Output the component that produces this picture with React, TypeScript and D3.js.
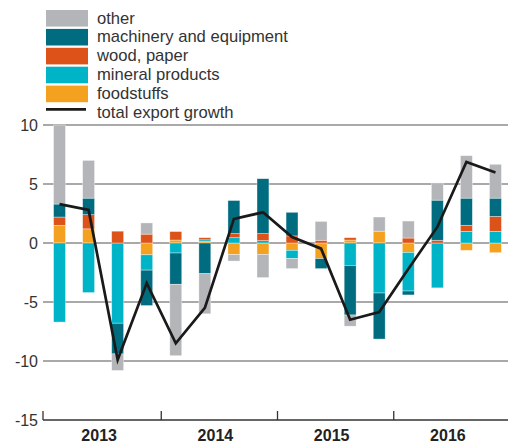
import { useEffect, useRef } from "react"
import * as d3 from "d3"

const quarters = ["13Q1", "13Q2", "13Q3", "13Q4", "14Q1", "14Q2", "14Q3", "14Q4", "15Q1", "15Q2", "15Q3", "15Q4", "16Q1", "16Q2", "16Q3", "16Q4"]
const years = ["2013", "2014", "2015", "2016"]

const foodstuffs = [1.5, 1.2, 0, -1.0, 0.25, 0.12, -0.98, -0.96, -0.62, -1.32, 0.25, 1.0, -0.8, 0, -0.62, -0.82]
const mineral = [-6.7, -4.2, -6.8, -1.3, -0.85, 0.15, 0.45, 0.2, -0.7, 0, -1.9, -4.24, -3.27, -3.8, 0.99, 0.99]
const wood = [0.7, 1.2, 1.0, 0.75, 0.72, 0.18, 0.35, 0.6, 0.6, 0.23, 0.2, 0, 0.42, 0.23, 0.51, 1.27]
const machinery = [1.1, 1.4, -2.6, -3.0, -2.65, -2.6, 2.8, 4.65, 2.0, -0.85, -4.2, -3.9, -0.33, 3.4, 2.3, 1.54]
const other = [6.7, 3.2, -1.4, 0.95, -6.05, -3.4, -0.55, -1.97, -0.85, 1.6, -0.95, 1.2, 1.44, 1.46, 3.6, 2.87]
const total = [3.3, 2.8, -9.9, -3.4, -8.5, -5.5, 2.05, 2.6, 0.5, -0.48, -6.5, -5.85, -2.2, 1.36, 6.86, 5.97]

const yTicks = [10, 5, 0, -5, -10, -15]

const keys = ["foodstuffs", "mineral", "wood", "machinery", "other"]
const colors = {
    foodstuffs: "#f4a11f",
    mineral: "#00b4c8",
    wood: "#dc5219",
    machinery: "#006c80",
    other: "#b4b5b8",
}
const legendItems = [
    { key: "other", label: "other" },
    { key: "machinery", label: "machinery and equipment" },
    { key: "wood", label: "wood, paper" },
    { key: "mineral", label: "mineral products" },
    { key: "foodstuffs", label: "foodstuffs" },
]

export default function App() {
    const chart = useRef<SVGSVGElement>(null)
    const width = 508
    const height = 444

    useEffect(() => {
        const svg = d3.select(chart.current)
        svg.selectAll("*").remove()
        const font = "'Liberation Sans', Arial, sans-serif"

        const rows = quarters.map((q, i) => ({
            q,
            foodstuffs: foodstuffs[i],
            mineral: mineral[i],
            wood: wood[i],
            machinery: machinery[i],
            other: other[i],
            total: total[i],
        }))

        const x = d3.scaleBand().domain(quarters).range([45, 510]).paddingInner(0.59).paddingOuter(0.295)
        const xYear = d3.scaleBand().domain(years).range([45, 510])
        const y = d3.scaleLinear().domain([-15, 10]).range([420, 125])

        // gridlines + y labels
        const grid = svg.append("g")
        grid.selectAll("line")
            .data(yTicks.filter(d => d > -15))
            .enter().append("line")
            .attr("x1", 43).attr("x2", 508)
            .attr("y1", d => y(d)).attr("y2", d => y(d))
            .attr("stroke", "#8c8c8c")
            .attr("stroke-width", 1.5)
        grid.selectAll("text")
            .data(yTicks)
            .enter().append("text")
            .attr("x", 38)
            .attr("y", d => y(d))
            .attr("dy", "0.36em")
            .attr("text-anchor", "end")
            .attr("font-family", font)
            .attr("font-size", 16)
            .attr("fill", "#333")
            .text(d => String(d))

        // stacked bars
        const series = d3.stack<any>().keys(keys).offset(d3.stackOffsetDiverging)(rows)
        svg.append("g")
            .selectAll("g")
            .data(series)
            .enter().append("g")
            .attr("fill", d => colors[d.key as keyof typeof colors])
            .selectAll("rect")
            .data(d => d)
            .enter().append("rect")
            .attr("x", d => x(d.data.q)!)
            .attr("width", x.bandwidth())
            .attr("y", d => y(Math.max(d[0], d[1])))
            .attr("height", d => Math.abs(y(d[0]) - y(d[1])))
            .attr("stroke", "#fff")
            .attr("stroke-opacity", 0.5)
            .attr("stroke-width", 0.7)

        // total line
        const line = d3.line<any>()
            .x(d => x(d.q)! + x.bandwidth() / 2)
            .y(d => y(d.total))
        svg.append("path")
            .datum(rows)
            .attr("d", line)
            .attr("fill", "none")
            .attr("stroke", "#1a1a1a")
            .attr("stroke-width", 2.7)
            .attr("stroke-linejoin", "miter")

        // bottom axis
        const axis = svg.append("g")
        axis.append("line")
            .attr("x1", 43).attr("x2", 508)
            .attr("y1", y(-15)).attr("y2", y(-15))
            .attr("stroke", "#333").attr("stroke-width", 1.3)
        const seps = [43, ...years.slice(1).map(yr => xYear(yr)!)]
        axis.selectAll("line.tick")
            .data(seps)
            .enter().append("line")
            .attr("class", "tick")
            .attr("x1", d => d).attr("x2", d => d)
            .attr("y1", y(-15) - 9).attr("y2", y(-15))
            .attr("stroke", "#333").attr("stroke-width", 1.3)
        axis.selectAll("text")
            .data(years)
            .enter().append("text")
            .attr("x", d => xYear(d)! + xYear.bandwidth() / 2 - 4)
            .attr("y", 441)
            .attr("text-anchor", "middle")
            .attr("font-family", font)
            .attr("font-size", 16)
            .attr("font-weight", "bold")
            .attr("fill", "#222")
            .text(d => d)

        // legend
        const legend = svg.append("g")
        legendItems.forEach((item, i) => {
            const top = 10 + i * 18.9
            legend.append("rect")
                .attr("x", 46).attr("y", top)
                .attr("width", 42).attr("height", 16.6)
                .attr("fill", colors[item.key as keyof typeof colors])
            legend.append("text")
                .attr("x", 97).attr("y", top + 13.5)
                .attr("font-family", font)
                .attr("font-size", 16.6)
                .attr("fill", "#333")
                .text(item.label)
        })
        legend.append("line")
            .attr("x1", 46).attr("x2", 86)
            .attr("y1", 109.3).attr("y2", 109.3)
            .attr("stroke", "#1a1a1a").attr("stroke-width", 2.8)
        legend.append("text")
            .attr("x", 97).attr("y", 118)
            .attr("font-family", font)
            .attr("font-size", 16.6)
            .attr("fill", "#333")
            .text("total export growth")
    }, [])

    return (
        <svg ref={chart} width={width} height={height}
            style={{ position: "absolute", left: 0, top: 0 }}></svg>
    )
}
